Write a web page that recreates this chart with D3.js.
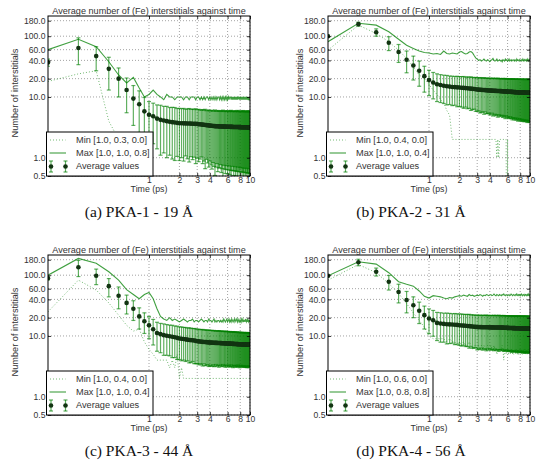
<!DOCTYPE html>
<html>
<head>
<meta charset="utf-8">
<script src="https://cdn.jsdelivr.net/npm/d3@7"></script>
<style>
  body { margin: 0; background: #fff; }
  svg text { font-family: "Liberation Sans", Arial, Helvetica, sans-serif; fill: #333; }
  svg text.caption { font-family: "Liberation Serif", "DejaVu Serif", serif; fill: #111; }
</style>
</head>
<body>
<svg id="chart" width="543" height="468"></svg>
<script>

// time axis (ps), one sample every 0.1 ps
var times = [0.1, 0.2, 0.3, 0.4, 0.5, 0.6, 0.7, 0.8, 0.9, 1.0,
  1.1, 1.2, 1.3, 1.4, 1.5, 1.6, 1.7, 1.8, 1.9, 2.0,
  2.1, 2.2, 2.3, 2.4, 2.5, 2.6, 2.7, 2.8, 2.9, 3.0,
  3.1, 3.2, 3.3, 3.4, 3.5, 3.6, 3.7, 3.8, 3.9, 4.0,
  4.1, 4.2, 4.3, 4.4, 4.5, 4.6, 4.7, 4.8, 4.9, 5.0,
  5.1, 5.2, 5.3, 5.4, 5.5, 5.6, 5.7, 5.8, 5.9, 6.0,
  6.1, 6.2, 6.3, 6.4, 6.5, 6.6, 6.7, 6.8, 6.9, 7.0,
  7.1, 7.2, 7.3, 7.4, 7.5, 7.6, 7.7, 7.8, 7.9, 8.0,
  8.1, 8.2, 8.3, 8.4, 8.5, 8.6, 8.7, 8.8, 8.9, 9.0,
  9.1, 9.2, 9.3, 9.4, 9.5, 9.6, 9.7, 9.8, 9.9, 10.0];

// (a) PKA-1
var avgA = [37, 64, 47, 29, 20, 13, 9.4, 7.6, 5.8, 5.1,
  4.8, 4.4, 4.2, 4.1, 4.0, 3.9, 3.85, 3.8, 3.75, 3.7,
  3.7, 3.68, 3.67, 3.66, 3.65, 3.64, 3.63, 3.62, 3.6, 3.58,
  3.56, 3.55, 3.53, 3.5, 3.48, 3.46, 3.44, 3.42, 3.4, 3.38,
  3.36, 3.35, 3.33, 3.32, 3.31, 3.3, 3.3, 3.29, 3.28, 3.28,
  3.27, 3.27, 3.26, 3.26, 3.25, 3.25, 3.25, 3.24, 3.24, 3.24,
  3.23, 3.23, 3.23, 3.22, 3.22, 3.22, 3.22, 3.21, 3.21, 3.21,
  3.21, 3.2, 3.2, 3.2, 3.2, 3.2, 3.19, 3.19, 3.19, 3.19,
  3.19, 3.18, 3.18, 3.18, 3.18, 3.18, 3.18, 3.17, 3.17, 3.17,
  3.17, 3.17, 3.17, 3.16, 3.16, 3.16, 3.16, 3.16, 3.16, 3.15];
var stdA = [5, 30, 20, 16, 10, 7.5, 6, 5, 4, 3.3,
  3.1, 3.0, 3.1, 2.9, 3.0, 2.8, 2.9, 2.9, 2.7, 2.8,
  2.7, 2.8, 2.6, 2.7, 2.8, 2.6, 2.7, 2.6, 2.8, 2.6,
  2.7, 2.6, 2.5, 2.7, 2.6, 2.8, 2.5, 2.6, 2.7, 2.5,
  2.6, 2.7, 2.5, 2.6, 2.8, 2.6, 2.5, 2.7, 2.6, 2.6,
  2.5, 2.7, 2.6, 2.8, 2.5, 2.6, 2.7, 2.6, 2.5, 2.7,
  2.6, 2.5, 2.7, 2.6, 2.8, 2.6, 2.5, 2.6, 2.7, 2.6,
  2.5, 2.7, 2.6, 2.6, 2.8, 2.5, 2.6, 2.7, 2.6, 2.5,
  2.7, 2.6, 2.5, 2.6, 2.8, 2.6, 2.7, 2.5, 2.6, 2.7,
  2.6, 2.5, 2.7, 2.6, 2.6, 2.8, 2.5, 2.6, 2.7, 2.6];
var maxA = [60, 89, 67, 38, 23, 17, 21, 14, 10, 11,
  13, 11, 10, 9, 11, 10, 10, 9, 10, 10,
  10, 9, 10, 10, 9, 10, 10, 10, 9, 10,
  10, 9, 10, 9, 10, 9, 10, 10, 9, 10,
  9, 10, 9, 10, 9, 10, 9, 10, 10, 9,
  10, 9, 10, 9, 10, 9, 10, 9, 10, 9,
  10, 9, 10, 10, 9, 10, 9, 10, 9, 10,
  9, 10, 9, 10, 9, 10, 10, 9, 10, 9,
  10, 9, 10, 9, 10, 9, 10, 9, 10, 9,
  10, 9, 10, 9, 10, 9, 9, 10, 9, 9];
var minA = [18, 24, 27, 4, 2, 1, 1, 0, 0, 0,
  0, 0, 0, 0, 0, 0, 0, 0, 0, 0,
  0, 0, 0, 0, 0, 0, 0, 0, 0, 0,
  0, 0, 0, 0, 0, 0, 0, 0, 0, 0,
  0, 0, 0, 0, 0, 0, 0, 0, 0, 0,
  0, 0, 0, 0, 0, 0, 0, 0, 0, 0,
  0, 0, 0, 0, 0, 0, 0, 0, 0, 0,
  0, 0, 0, 0, 0, 0, 0, 0, 0, 0,
  0, 0, 0, 0, 0, 0, 0, 0, 0, 0,
  0, 0, 0, 0, 0, 0, 0, 0, 0, 0];

// (b) PKA-2
var avgB = [100, 158, 116, 78, 55, 41, 33, 27, 22, 19,
  17.3, 16.2, 15.7, 15.3, 15.0, 14.8, 14.6, 14.5, 14.4, 14.3,
  14.2, 14.1, 14.0, 13.9, 13.8, 13.7, 13.6, 13.5, 13.4, 13.3,
  13.2, 13.15, 13.1, 13.05, 13.0, 12.95, 12.9, 12.85, 12.8, 12.75,
  12.7, 12.7, 12.65, 12.65, 12.6, 12.6, 12.55, 12.55, 12.5, 12.5,
  12.45, 12.45, 12.4, 12.4, 12.35, 12.35, 12.3, 12.3, 12.25, 12.25,
  12.2, 12.2, 12.15, 12.15, 12.1, 12.1, 12.1, 12.05, 12.05, 12.0,
  12.0, 12.0, 11.95, 11.95, 11.95, 11.9, 11.9, 11.9, 11.9, 11.85,
  11.85, 11.85, 11.85, 11.8, 11.8, 11.8, 11.8, 11.8, 11.75, 11.75,
  11.75, 11.75, 11.75, 11.7, 11.7, 11.7, 11.7, 11.7, 11.7, 11.7];
var stdB = [3, 12, 16, 20, 18, 16, 14, 12, 10, 8.5,
  8.0, 7.8, 7.6, 7.5, 7.6, 7.3, 7.4, 7.2, 7.5, 7.3,
  7.4, 7.6, 7.2, 7.5, 7.3, 7.7, 7.4, 7.2, 7.6, 7.5,
  7.3, 7.7, 7.5, 7.4, 7.8, 7.3, 7.6, 7.5, 7.4, 7.7,
  7.5, 7.3, 7.8, 7.6, 7.4, 7.7, 7.5, 7.9, 7.4, 7.6,
  7.7, 7.5, 7.4, 7.8, 7.6, 7.5, 7.9, 7.4, 7.6, 7.7,
  7.5, 7.8, 7.6, 7.4, 7.7, 7.6, 7.9, 7.5, 7.6, 7.8,
  7.6, 7.5, 7.8, 7.7, 7.5, 7.9, 7.6, 7.7, 7.5, 7.8,
  7.7, 7.6, 7.9, 7.5, 7.7, 7.8, 7.6, 7.9, 7.7, 7.6,
  7.8, 7.6, 7.7, 7.9, 7.6, 7.8, 7.7, 7.6, 7.9, 7.8];
var maxB = [81, 163, 152, 118, 89, 71, 63, 57, 54, 53,
  51, 52, 50, 57, 52, 51, 53, 52, 51, 55,
  56, 53, 51, 52, 55, 56, 53, 48, 44, 42,
  40, 41, 39, 40, 42, 40, 39, 41, 40, 38,
  40, 41, 43, 40, 39, 40, 42, 39, 40, 41,
  39, 40, 38, 41, 40, 39, 42, 40, 41, 39,
  40, 42, 39, 40, 41, 39, 40, 41, 40, 39,
  41, 40, 39, 42, 40, 41, 40, 39, 41, 40,
  40, 39, 41, 40, 42, 40, 39, 41, 40, 40,
  41, 39, 40, 42, 40, 41, 39, 40, 41, 40];
var minB = [59, 152, 111, 81, 59, 43, 31, 23, 20, 16,
  13, 11, 9, 8, 6, 5, 2, 2, 2, 2,
  2, 2, 2, 2, 2, 2, 2, 2, 2, 2,
  2, 2, 2, 2, 2, 2, 2, 2, 2, 2,
  2, 2, 2, 2, 2, 2, 1, 2, 1, 2,
  2, 2, 2, 2, 2, 2, 2, 2, 0, 2,
  0, 0, 0, 0, 0, 0, 0, 0, 0, 0,
  0, 0, 0, 0, 0, 0, 0, 0, 0, 0,
  0, 0, 0, 0, 0, 0, 0, 0, 0, 0,
  0, 0, 0, 0, 0, 0, 0, 0, 0, 0];

// (c) PKA-3
var avgC = [89, 135, 98, 66, 46, 35, 28, 21, 17.5, 15,
  12.9, 11.2, 10.7, 10.3, 10.1, 9.9, 9.7, 9.5, 9.3, 9.1,
  9.0, 8.9, 8.8, 8.7, 8.6, 8.55, 8.5, 8.4, 8.3, 8.2,
  8.15, 8.1, 8.05, 8.0, 7.97, 7.94, 7.9, 7.87, 7.84, 7.8,
  7.78, 7.76, 7.74, 7.72, 7.7, 7.69, 7.68, 7.67, 7.66, 7.65,
  7.63, 7.62, 7.6, 7.59, 7.57, 7.56, 7.55, 7.53, 7.52, 7.5,
  7.49, 7.48, 7.47, 7.45, 7.44, 7.43, 7.42, 7.41, 7.4, 7.39,
  7.38, 7.37, 7.36, 7.35, 7.34, 7.33, 7.32, 7.31, 7.3, 7.3,
  7.29, 7.28, 7.27, 7.27, 7.26, 7.25, 7.25, 7.24, 7.23, 7.23,
  7.22, 7.22, 7.21, 7.21, 7.2, 7.2, 7.2, 7.19, 7.19, 7.18];
var stdC = [5, 40, 28, 22, 18, 12, 10, 8, 6.5, 6,
  5.8, 5.6, 5.4, 5.5, 5.3, 5.2, 5.3, 5.1, 5.2, 5.0,
  5.1, 4.9, 5.0, 4.8, 5.0, 4.9, 4.7, 4.9, 4.8, 4.7,
  4.8, 4.6, 4.7, 4.8, 4.5, 4.7, 4.6, 4.5, 4.7, 4.6,
  4.5, 4.6, 4.4, 4.6, 4.5, 4.3, 4.5, 4.4, 4.6, 4.4,
  4.3, 4.5, 4.4, 4.2, 4.4, 4.3, 4.5, 4.3, 4.2, 4.4,
  4.3, 4.2, 4.4, 4.3, 4.1, 4.3, 4.2, 4.4, 4.2, 4.1,
  4.3, 4.2, 4.1, 4.3, 4.2, 4.0, 4.2, 4.1, 4.3, 4.1,
  4.0, 4.2, 4.1, 4.2, 4.0, 4.1, 4.2, 4.0, 4.1, 4.2,
  4.1, 4.0, 4.2, 4.1, 4.0, 4.1, 4.2, 4.0, 4.1, 4.0];
var maxC = [100, 189, 157, 114, 83, 58, 48, 41, 48, 52,
  41, 28, 21, 19, 18, 20, 18, 19, 18, 17,
  18, 19, 18, 17, 18, 18, 19, 17, 18, 18,
  17, 18, 19, 18, 17, 18, 18, 17, 19, 18,
  18, 17, 18, 19, 17, 18, 17, 18, 18, 17,
  18, 17, 18, 17, 19, 18, 17, 18, 19, 17,
  18, 19, 17, 18, 17, 19, 18, 17, 18, 19,
  17, 18, 19, 18, 17, 19, 18, 17, 18, 17,
  18, 19, 17, 18, 19, 17, 18, 18, 17, 19,
  18, 17, 18, 19, 17, 18, 17, 18, 18, 17];
var minC = [25, 83, 57, 35, 22, 15, 12, 13, 8, 6,
  5, 4, 4, 4, 4, 3, 4, 3, 5, 2,
  3, 2, 2, 2, 2, 2, 2, 2, 2, 2,
  2, 2, 2, 2, 2, 2, 2, 2, 2, 2,
  2, 2, 2, 2, 2, 2, 2, 2, 2, 2,
  2, 2, 2, 2, 2, 2, 2, 2, 2, 2,
  2, 2, 2, 2, 2, 2, 2, 2, 2, 2,
  2, 2, 2, 2, 2, 2, 2, 2, 2, 2,
  2, 2, 2, 2, 2, 2, 2, 2, 2, 2,
  2, 2, 2, 2, 2, 2, 2, 2, 2, 2];

// (d) PKA-4
var avgD = [98, 163, 114, 78, 53, 39, 32, 26, 22, 19.4,
  18.1, 16.4, 16.0, 15.8, 15.6, 15.5, 15.4, 15.3, 15.2, 15.0,
  14.9, 14.8, 14.7, 14.6, 14.5, 14.4, 14.3, 14.2, 14.1, 14.0,
  14.0, 13.98, 13.96, 13.94, 13.92, 13.9, 13.9, 13.88, 13.86, 13.85,
  13.84, 13.83, 13.82, 13.81, 13.8, 13.8, 13.79, 13.78, 13.77, 13.76,
  13.75, 13.73, 13.72, 13.7, 13.68, 13.66, 13.64, 13.62, 13.6, 13.58,
  13.56, 13.54, 13.52, 13.5, 13.49, 13.48, 13.47, 13.46, 13.45, 13.44,
  13.43, 13.42, 13.41, 13.4, 13.39, 13.38, 13.37, 13.36, 13.35, 13.34,
  13.33, 13.32, 13.31, 13.3, 13.29, 13.28, 13.27, 13.27, 13.26, 13.25,
  13.25, 13.24, 13.23, 13.22, 13.22, 13.21, 13.21, 13.2, 13.2, 13.2];
var stdD = [4, 20, 17, 21, 18, 15, 12, 10, 9, 8.5,
  8.2, 8.0, 8.1, 7.9, 8.2, 8.0, 7.8, 8.1, 7.9, 8.0,
  8.1, 7.8, 8.0, 7.9, 8.2, 7.8, 8.0, 7.9, 7.7, 8.1,
  7.9, 8.0, 7.7, 8.1, 7.8, 7.9, 8.2, 7.8, 8.0, 7.7,
  8.0, 7.8, 7.9, 8.1, 7.7, 8.0, 7.9, 7.8, 8.2, 7.9,
  7.8, 8.0, 7.7, 7.9, 8.1, 7.8, 8.0, 7.9, 7.7, 8.0,
  7.9, 7.8, 8.0, 7.7, 7.9, 8.1, 7.8, 7.9, 8.0, 7.7,
  7.9, 8.0, 7.8, 7.7, 8.1, 7.9, 7.8, 8.0, 7.7, 7.9,
  8.0, 7.8, 7.9, 7.7, 8.0, 7.9, 7.8, 8.1, 7.8, 7.9,
  7.8, 7.9, 8.0, 7.7, 7.9, 7.8, 8.0, 7.9, 7.8, 7.9];
var maxD = [98, 166, 152, 110, 78, 71, 66, 55, 45, 42,
  46, 45, 44, 42, 41, 43, 42, 44, 45, 46,
  45, 47, 46, 45, 48, 46, 47, 45, 46, 47,
  46, 48, 47, 45, 47, 46, 48, 47, 46, 47,
  48, 46, 47, 49, 47, 46, 48, 47, 46, 48,
  47, 46, 48, 47, 49, 47, 46, 48, 47, 46,
  47, 48, 46, 47, 49, 48, 46, 47, 48, 47,
  46, 48, 47, 49, 47, 46, 48, 47, 48, 46,
  47, 49, 48, 46, 47, 48, 47, 46, 48, 47,
  48, 47, 46, 48, 47, 49, 47, 48, 46, 48];
var minD = [83, 150, 110, 73, 50, 34, 24, 18, 14, 10,
  9, 9, 9, 9, 8, 9, 8, 8, 7, 8,
  7, 8, 7, 7, 8, 7, 6, 7, 7, 6,
  7, 6, 7, 6, 7, 6, 6, 7, 6, 6,
  7, 6, 6, 7, 6, 6, 5, 6, 6, 6,
  6, 6, 7, 6, 4, 6, 6, 5, 6, 6,
  5, 6, 6, 5, 6, 6, 5, 6, 5, 6,
  6, 5, 6, 6, 5, 6, 5, 6, 6, 5,
  6, 5, 6, 5, 6, 6, 5, 6, 5, 6,
  5, 6, 6, 5, 6, 5, 6, 5, 6, 5];

// tick values and texts
var xTicks = [1, 2, 3, 4, 6, 8, 10];
var yTicks = [0.5, 1, 10, 20, 40, 60, 100, 180];
var minLabels = ["Min [1.0, 0.3, 0.0]", "Min [1.0, 0.4, 0.0]", "Min [1.0, 0.4, 0.0]", "Min [1.0, 0.6, 0.0]"];
var maxLabels = ["Max [1.0, 1.0, 0.8]", "Max [1.0, 1.0, 0.4]", "Max [1.0, 1.0, 0.4]", "Max [1.0, 0.8, 0.8]"];
var captions = ["(a) PKA-1 - 19 \u00c5", "(b) PKA-2 - 31 \u00c5", "(c) PKA-3 - 44 \u00c5", "(d) PKA-4 - 56 \u00c5"];
var titleText = "Average number of (Fe) interstitials against time";

var svg = d3.select("#chart");
var plotW = 202, plotH = 160;
var green = "#008000";

// where each sub figure sits on the page
var layout = [
  {left: 48, top: 16, labelX: 15, captionX: 139},
  {left: 328, top: 16, labelX: 300, captionX: 411},
  {left: 48, top: 255, labelX: 15, captionX: 139},
  {left: 328, top: 255, labelX: 300, captionX: 411}
];
var series = [
  {avg: avgA, std: stdA, max: maxA, min: minA},
  {avg: avgB, std: stdB, max: maxB, min: minB},
  {avg: avgC, std: stdC, max: maxC, min: minC},
  {avg: avgD, std: stdD, max: maxD, min: minD}
];

layout.forEach(function(p, k) {
  drawPanel(p, series[k], k);
});

function drawPanel(p, s, k) {

  var x = d3.scaleLog().domain([0.1, 10]).range([p.left, p.left + plotW]);
  var y = d3.scaleLog().domain([0.5, 215]).range([p.top + plotH, p.top]);
  // values <= 0 are pushed far below the axis (then clipped), like matplotlib does
  var yc = function(v) { return y(Math.max(v, 0.001)); };

  var rows = times.map(function(t, i) {
    return {t: t, avg: s.avg[i], std: s.std[i], max: s.max[i], min: s.min[i]};
  });

  var g = svg.append("g");

  svg.append("clipPath").attr("id", "clip" + k)
    .append("rect")
    .attr("x", p.left).attr("y", p.top)
    .attr("width", plotW).attr("height", plotH);

  // dotted grid
  var grid = g.append("g");
  grid.append("g").selectAll("line").data(xTicks).enter().append("line")
    .attr("x1", function(d) { return x(d); })
    .attr("x2", function(d) { return x(d); })
    .attr("y1", p.top).attr("y2", p.top + plotH);
  grid.append("g").selectAll("line").data(yTicks).enter().append("line")
    .attr("x1", p.left).attr("x2", p.left + plotW)
    .attr("y1", function(d) { return y(d); })
    .attr("y2", function(d) { return y(d); });
  grid.selectAll("line")
    .attr("stroke", "#8c8c8c").attr("stroke-width", 0.8)
    .attr("stroke-dasharray", "1,2");

  var plot = g.append("g").attr("clip-path", "url(#clip" + k + ")");

  // min line (dotted)
  plot.append("path").datum(rows)
    .attr("d", d3.line().x(function(d) { return x(d.t); }).y(function(d) { return yc(d.min); }))
    .attr("fill", "none").attr("stroke", green).attr("stroke-opacity", 0.55)
    .attr("stroke-width", 1).attr("stroke-dasharray", "1,2");

  // max line
  plot.append("path").datum(rows)
    .attr("d", d3.line().x(function(d) { return x(d.t); }).y(function(d) { return y(d.max); }))
    .attr("fill", "none").attr("stroke", green).attr("stroke-opacity", 0.75)
    .attr("stroke-width", 1.1);

  // error bars
  var bars = plot.append("g").selectAll("g").data(rows).enter().append("g")
    .attr("stroke", green).attr("stroke-opacity", 0.62).attr("stroke-width", 1.2);
  bars.append("line")
    .attr("x1", function(d) { return x(d.t); })
    .attr("x2", function(d) { return x(d.t); })
    .attr("y1", function(d) { return yc(d.avg - d.std); })
    .attr("y2", function(d) { return y(d.avg + d.std); });
  bars.append("line")
    .attr("x1", function(d) { return x(d.t) - 2; })
    .attr("x2", function(d) { return x(d.t) + 2; })
    .attr("y1", function(d) { return y(d.avg + d.std); })
    .attr("y2", function(d) { return y(d.avg + d.std); });
  bars.append("line")
    .attr("x1", function(d) { return x(d.t) - 2; })
    .attr("x2", function(d) { return x(d.t) + 2; })
    .attr("y1", function(d) { return yc(d.avg - d.std); })
    .attr("y2", function(d) { return yc(d.avg - d.std); });

  // average points
  plot.append("g").selectAll("circle").data(rows).enter().append("circle")
    .attr("cx", function(d) { return x(d.t); })
    .attr("cy", function(d) { return y(d.avg); })
    .attr("r", 2.3)
    .attr("fill", "#123412");

  // axes, ticks pointing inwards
  var xAxis = d3.axisBottom(x).tickValues(xTicks).tickFormat(d3.format("d"))
    .tickSizeInner(-3).tickSizeOuter(0).tickPadding(0.5);
  var yAxis = d3.axisLeft(y).tickValues(yTicks).tickFormat(d3.format(".1f"))
    .tickSizeInner(-3).tickSizeOuter(0).tickPadding(2.5);

  g.append("g").attr("transform", "translate(0," + (p.top + plotH) + ")").call(xAxis);
  g.append("g").attr("transform", "translate(" + p.left + ",0)").call(yAxis);
  g.append("g").attr("transform", "translate(0," + p.top + ")")
    .call(d3.axisTop(x).tickValues(xTicks).tickSizeInner(-3).tickSizeOuter(0).tickFormat(""));
  g.append("g").attr("transform", "translate(" + (p.left + plotW) + ",0)")
    .call(d3.axisRight(y).tickValues(yTicks).tickSizeInner(-3).tickSizeOuter(0).tickFormat(""));
  g.selectAll(".domain").remove();
  g.selectAll(".tick line").attr("stroke", "#000").attr("stroke-width", 0.8);
  g.selectAll(".tick text").attr("font-family", null).attr("font-size", "8.6px");

  // frame
  g.append("rect")
    .attr("x", p.left).attr("y", p.top)
    .attr("width", plotW).attr("height", plotH)
    .attr("fill", "none").attr("stroke", "#000").attr("stroke-width", 1);

  // titles
  g.append("text")
    .attr("x", p.left + plotW / 2).attr("y", p.top - 2)
    .attr("text-anchor", "middle").attr("font-size", "9.1px")
    .text(titleText);
  g.append("text")
    .attr("x", p.left + plotW / 2).attr("y", p.top + plotH + 16)
    .attr("text-anchor", "middle").attr("font-size", "8.8px")
    .text("Time (ps)");
  g.append("text")
    .attr("transform", "translate(" + p.labelX + "," + (p.top + 77) + ") rotate(-90)")
    .attr("text-anchor", "middle").attr("dy", "0.35em").attr("font-size", "9.2px")
    .text("Number of interstitials");

  // legend (lower left)
  var lg = g.append("g").attr("transform", "translate(" + (p.left - 1.5) + "," + (p.top + 116) + ")");
  lg.append("rect")
    .attr("width", 106.5).attr("height", 44)
    .attr("fill", "#fff").attr("stroke", "#000").attr("stroke-width", 1);

  lg.append("line").attr("x1", 3.5).attr("x2", 19).attr("y1", 8).attr("y2", 8)
    .attr("stroke", green).attr("stroke-opacity", 0.55).attr("stroke-dasharray", "1,2");
  lg.append("line").attr("x1", 3).attr("x2", 19.5).attr("y1", 21).attr("y2", 21)
    .attr("stroke", green).attr("stroke-opacity", 0.75).attr("stroke-width", 1.1);
  [4.5, 19].forEach(function(cx) {
    var e = lg.append("g").attr("stroke", green).attr("stroke-opacity", 0.65).attr("stroke-width", 1.2);
    e.append("line").attr("x1", cx).attr("x2", cx).attr("y1", 29).attr("y2", 40);
    e.append("line").attr("x1", cx - 2).attr("x2", cx + 2).attr("y1", 29).attr("y2", 29);
    e.append("line").attr("x1", cx - 2).attr("x2", cx + 2).attr("y1", 40).attr("y2", 40);
    lg.append("circle").attr("cx", cx).attr("cy", 34.5).attr("r", 2.3).attr("fill", "#123412");
  });

  var legendText = [minLabels[k], maxLabels[k], "Average values"];
  lg.selectAll("text.item").data(legendText).enter().append("text")
    .attr("class", "item")
    .attr("x", 29.5)
    .attr("y", function(d, i) { return 8 + i * 13; })
    .attr("dy", "0.35em").attr("font-size", "9.2px")
    .text(function(d) { return d; });

  // sub figure caption
  svg.append("text").attr("class", "caption")
    .attr("x", p.captionX).attr("y", p.top + 201)
    .attr("text-anchor", "middle").attr("font-size", "15.5px")
    .text(captions[k]);
}
</script>
</body>
</html>
